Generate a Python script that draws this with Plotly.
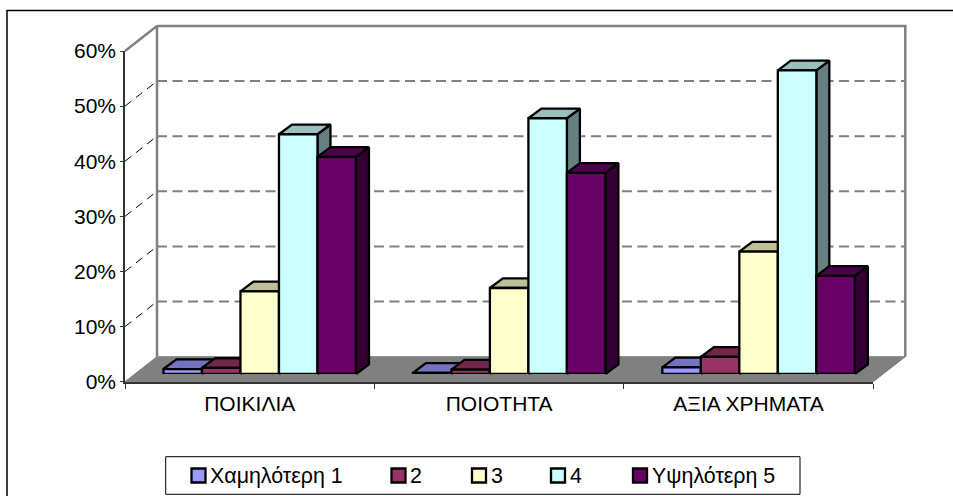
import plotly.graph_objects as go

categories = ["ΠΟΙΚΙΛΙΑ", "ΠΟΙΟΤΗΤΑ", "ΑΞΙΑ ΧΡΗΜΑΤΑ"]
series_names = ["Χαμηλότερη 1", "2", "3", "4", "Υψηλότερη 5"]
low_1 = [0.9, 0.2, 1.2]
val_2 = [1.1, 0.8, 3.1]
val_3 = [15.0, 15.6, 22.2]
val_4 = [43.5, 46.4, 55.1]
high_5 = [39.4, 36.5, 17.8]
series_values = [low_1, val_2, val_3, val_4, high_5]
y_ticks = [0, 10, 20, 30, 40, 50, 60]
colors = ["#9999FF", "#993366", "#FFFFCC", "#CCFFFF", "#660066"]

W, H = 953, 496
X0, X1 = 125.0, 873.3      # front plane, px
Y0, Y60 = 381.7, 51.0
PX_CAT = (X1 - X0) / 3
PX_PCT = (Y0 - Y60) / 60
BACK_DX, BACK_DY = 32 / PX_CAT, 25 / PX_PCT
PLANE_DX, PLANE_DY = 10 / PX_CAT, 7.7 / PX_PCT
BAR_W = 38.5 / PX_CAT
BAR_DX, BAR_DY = 13 / PX_CAT, 9.7 / PX_PCT
FONT = dict(family="Liberation Sans, Arial, sans-serif", size=21, color="#000000")
LEGEND_FONT = dict(family="Liberation Sans, Arial, sans-serif", size=21.4, color="#000000")
GRAY = "#808080"
EDGE = 2.3


def shade(hex_color, k):
    r, g, b = (int(hex_color[i:i + 2], 16) for i in (1, 3, 5))
    return f"rgb({r * k:.0f},{g * k:.0f},{b * k:.0f})"


def px(x):
    return x / W


def py(y):
    return 1 - y / H


fig = go.Figure()


def scene(xs, ys, **kw):
    fig.add_trace(go.Scatter(x=xs, y=ys, xaxis="x", yaxis="y", showlegend=False,
                             hoverinfo="skip", cliponaxis=False, **kw))


# Floor
scene([0, 3, 3 + BACK_DX, BACK_DX, 0], [0, 0, BACK_DY, BACK_DY, 0], mode="lines",
      fill="toself", fillcolor=GRAY, line=dict(color=GRAY, width=1))
# Gridlines on the walls
for t in y_ticks[1:-1]:
    scene([BACK_DX, 3 + BACK_DX], [t + BACK_DY] * 2, mode="lines",
          line=dict(color=GRAY, width=2, dash="10px,5.5px"))
    scene([0, BACK_DX], [t, t + BACK_DY], mode="lines",
          line=dict(color="#000000", width=1, dash="8px,6px"))
# Wall outline
scene([0, BACK_DX, BACK_DX], [60, 60 + BACK_DY, BACK_DY], mode="lines",
      line=dict(color=GRAY, width=2.5))
scene([BACK_DX, 3 + BACK_DX, 3 + BACK_DX], [60 + BACK_DY, 60 + BACK_DY, BACK_DY], mode="lines",
      line=dict(color=GRAY, width=2.5))

# 3D faces of the bars, derived from the same values
for s, vals in enumerate(series_values):
    side_x, side_y, top_x, top_y = [], [], [], []
    for c, v in enumerate(vals):
        l = PLANE_DX + c + 0.5 + (s - 2.5) * BAR_W
        r = l + BAR_W
        h = v + PLANE_DY
        side_x += [r, r + BAR_DX, r + BAR_DX, r, r, None]
        side_y += [PLANE_DY, PLANE_DY + BAR_DY, h + BAR_DY, h, PLANE_DY, None]
        top_x += [l, r, r + BAR_DX, l + BAR_DX, l, None]
        top_y += [h, h, h + BAR_DY, h + BAR_DY, h, None]
    scene(side_x, side_y, mode="lines", fill="toself", fillcolor=shade(colors[s], 0.5),
          line=dict(color="#000000", width=EDGE))
    scene(top_x, top_y, mode="lines", fill="toself", fillcolor=shade(colors[s], 0.75),
          line=dict(color="#000000", width=EDGE))

# Front faces
for s, vals in enumerate(series_values):
    fig.add_trace(go.Bar(x=categories, y=vals, name=series_names[s], xaxis="x2", yaxis="y2",
                         marker=dict(color=colors[s], line=dict(color="#000000", width=EDGE)),
                         cliponaxis=False, showlegend=False))

# Carrier for the visible front axes
fig.add_trace(go.Scatter(x=[1.5], y=[0], xaxis="x3", yaxis="y3", mode="markers",
                         marker=dict(opacity=0), showlegend=False, hoverinfo="skip"))

shapes = [
    # chart border: left and top only (rest cropped)
    dict(type="path", xref="paper", yref="paper", layer="below",
         path=f"M {px(7)} {py(500)} L {px(7)} {py(10.5)} L {px(957)} {py(10.5)}",
         line=dict(color="#000000", width=1.5)),
    # legend box
    dict(type="rect", xref="paper", yref="paper", x0=px(165.7), x1=px(800), y0=py(494.3), y1=py(456.7),
         line=dict(color="#000000", width=1), fillcolor="#FFFFFF"),
]
annotations = []
legend_marker_x = [191.5, 391.5, 472, 551, 633]
for s, name in enumerate(series_names):
    mx = legend_marker_x[s]
    shapes.append(dict(type="rect", xref="paper", yref="paper", x0=px(mx), x1=px(mx + 14),
                       y0=py(482.5), y1=py(468.5), fillcolor=colors[s],
                       line=dict(color="#000000", width=2.3)))
    annotations.append(dict(text=name, xref="paper", yref="paper", x=px(mx + 19.5), y=py(475.5),
                            xanchor="left", yanchor="middle", showarrow=False, font=LEGEND_FONT,
                            xshift=-3))

fig.update_layout(
    width=W, height=H, autosize=False, margin=dict(l=0, r=0, t=0, b=0, pad=0, autoexpand=False),
    paper_bgcolor="#FFFFFF", plot_bgcolor="rgba(0,0,0,0)", font=FONT, showlegend=False,
    barmode="group", bargap=1 - 5 * BAR_W, bargroupgap=0,
    shapes=shapes, annotations=annotations,
    xaxis=dict(domain=[0, 1], range=[-X0 / PX_CAT, (W - X0) / PX_CAT], visible=False, fixedrange=True),
    yaxis=dict(domain=[0, 1], range=[-(H - Y0) / PX_PCT, Y0 / PX_PCT], visible=False, fixedrange=True),
    xaxis2=dict(domain=[px(X0 + 10), px(X1 + 10)], anchor="y2", visible=False, type="category",
                range=[-0.5, 2.5], fixedrange=True),
    yaxis2=dict(domain=[py(Y0 - 7.7), py(Y60 - 7.7)], anchor="x2", visible=False, range=[0, 60],
                fixedrange=True),
    xaxis3=dict(domain=[px(X0), px(X1)], anchor="y3", range=[0, 3], showgrid=False, zeroline=False,
                tickmode="array", tickvals=[0.5, 1.5, 2.5], ticktext=categories, ticks="",
                ticklabelstandoff=2,
                showline=True, linecolor="#333333", linewidth=2, tickfont=FONT,
                minor=dict(tickmode="array", tickvals=[0, 1, 2, 3], ticks="outside", ticklen=5,
                           tickcolor="#333333", tickwidth=1, showgrid=False),
                fixedrange=True),
    yaxis3=dict(domain=[py(Y0), py(Y60)], anchor="x3", range=[0, 60], showgrid=False, zeroline=False,
                tickmode="array", tickvals=y_ticks, ticktext=[f"{t}%" for t in y_ticks], ticks="outside",
                ticklen=3, tickcolor="#333333", tickwidth=1, showline=True, linecolor="#333333",
                linewidth=1.5, tickfont=FONT, fixedrange=True),
)

fig.write_html("out.html", config=dict(displayModeBar=False),
               post_script="document.body.style.margin='0';document.body.style.overflow='hidden';")
